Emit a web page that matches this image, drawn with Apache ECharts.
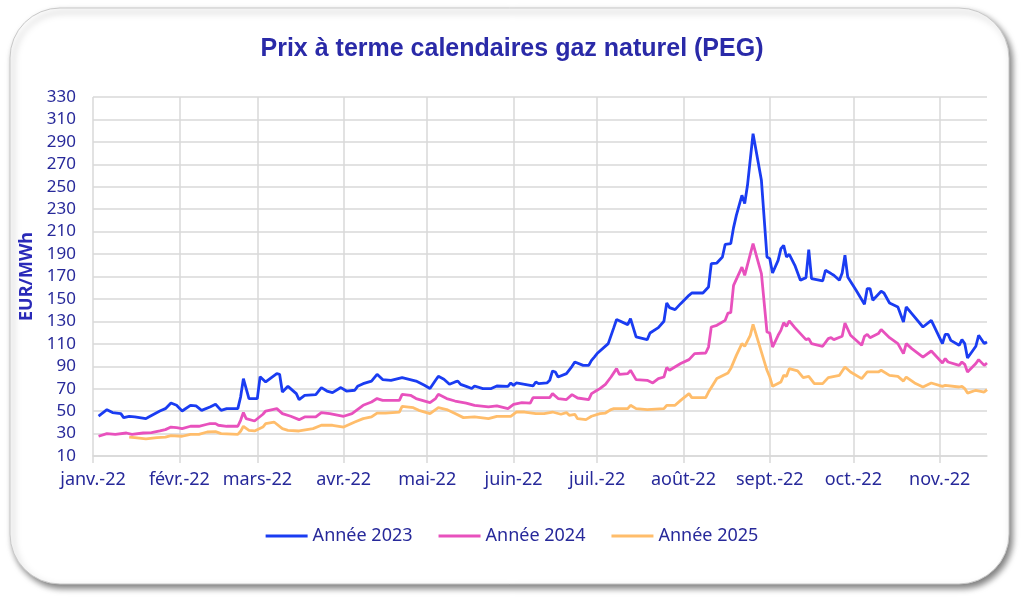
<!DOCTYPE html>
<html>
<head>
<meta charset="utf-8">
<title>Prix à terme calendaires gaz naturel (PEG)</title>
<script src="https://cdn.jsdelivr.net/npm/echarts@6/dist/echarts.min.js"></script>
<style>
  html, body { margin: 0; padding: 0; background: #fff; }
  #chart { width: 1024px; height: 598px; }
</style>
</head>
<body>
<div id="chart"></div>
<script>
// libellés des mois (axe x)
var moisLabels = ['janv.-22', 'févr.-22', 'mars-22', 'avr.-22', 'mai-22', 'juin-22',
                  'juil.-22', 'août-22', 'sept.-22', 'oct.-22', 'nov.-22', 'déc.-22'];
var yTicks = { min: 10, max: 330, step: 20 };
var nomsSeries = ['Année 2023', 'Année 2024', 'Année 2025'];

// cotations : [jour 'MM-JJ', EUR/MWh]
var annee2023 = [
  ['01-03',45.6],['01-06',51.3],['01-08',48.7],['01-11',47.8],['01-12',44.2],['01-14',45.4],
  ['01-16',44.8],['01-20',43.3],['01-21',44.8],['01-25',50.1],['01-27',52.2],['01-29',57.2],
  ['01-31',55.2],['02-02',50.1],['02-05',55.2],['02-07',54.6],['02-09',50.7],['02-12',53.7],
  ['02-14',56.1],['02-16',50.7],['02-18',52.2],['02-22',52.2],['02-23',62.6],['02-24',79],
  ['02-26',61.2],['03-01',61.2],['03-02',80.7],['03-04',76],['03-08',83.4],['03-09',82.8],
  ['03-10',67],['03-12',72.1],['03-15',65.6],['03-16',60.3],['03-18',64.1],['03-22',64.7],
  ['03-24',71],['03-26',67.9],['03-28',66.5],['03-31',71],['04-02',67.9],['04-05',68.6],
  ['04-06',72.1],['04-08',74.5],['04-11',76.8],['04-13',82.8],['04-15',78.1],['04-18',77.5],
  ['04-22',79.9],['04-27',76.8],['04-30',73],['05-02',70.1],['05-04',77.5],['05-05',81],
  ['05-07',78.4],['05-09',73.9],['05-11',76],['05-12',76.8],['05-13',73.9],['05-15',72.1],
  ['05-17',70.1],['05-18',72.4],['05-21',70.1],['05-24',70.1],['05-26',72.4],['05-30',72.1],
  ['05-31',75.1],['06-01',73],['06-02',75.1],['06-05',73.9],['06-08',72.4],['06-09',76],
  ['06-10',74.5],['06-13',75.1],['06-14',77.5],['06-15',85.8],['06-16',84.9],['06-17',80.4],
  ['06-20',83.4],['06-22',89.9],['06-23',93.8],['06-26',90.8],['06-28',90.8],['06-29',95.3],
  ['06-30',98.2],['07-01',101.3],['07-05',110.2],['07-07',124.4],['07-08',131.6],['07-12',127.1],
  ['07-13',132.5],['07-15',116.1],['07-19',113.7],['07-20',119.6],['07-23',124.4],['07-25',130.1],
  ['07-26',146.4],['07-27',142.3],['07-29',140.5],['07-31',145.8],['08-03',153.2],['08-04',155.3],
  ['08-08',155.3],['08-10',160.6],['08-11',181.5],['08-13',182],['08-15',187.4],['08-16',198.7],
  ['08-18',199.3],['08-19',213.6],['08-20',224.5],['08-22',242.4],['08-23',235],['08-24',251.3],
  ['08-26',297.3],['08-29',255.7],['08-31',187.4],['09-01',185.9],['09-02',173.1],['09-04',184.4],
  ['09-05',194.8],['09-06',197.7],['09-07',187.4],['09-08',189.8],['09-10',180],['09-12',166.6],
  ['09-14',169],['09-15',193.9],['09-16',168.1],['09-20',166],['09-21',175.5],['09-23',172.6],
  ['09-24',171.1],['09-26',166.6],['09-27',173.1],['09-28',188.9],['09-29',169.5],['10-02',157.7],
  ['10-05',145.2],['10-06',159.2],['10-07',159.2],['10-08',148.8],['10-11',156.8],['10-12',155.3],
  ['10-14',146.4],['10-17',142.8],['10-19',129.4],['10-20',142.8],['10-22',136.9],['10-26',125],
  ['10-29',130.9],['11-02',110.2],['11-03',118.5],['11-04',118.5],['11-05',113.1],['11-08',108.7],
  ['11-09',113.7],['11-10',110.2],['11-11',97.3],['11-14',107.8],['11-15',117.6],['11-17',110.2],
  ['11-18',111.6]
];

var annee2024 = [
  ['01-03',27.6],['01-06',30],['01-09',29.3],['01-13',30.5],['01-15',29.3],['01-19',30.5],
  ['01-22',30.9],['01-25',32.3],['01-27',33.5],['01-29',35.8],['01-31',35.3],['02-02',34.4],
  ['02-05',36.5],['02-08',36.5],['02-11',38.3],['02-12',38.9],['02-14',38.9],['02-15',37.4],
  ['02-18',36.5],['02-22',36.5],['02-23',41.8],['02-24',48.7],['02-25',43.3],['02-28',41.2],
  ['03-03',47.2],['03-04',50.1],['03-08',52.2],['03-10',47.8],['03-13',45.4],['03-16',42.4],
  ['03-18',44.8],['03-22',44.8],['03-24',48.7],['03-27',47.8],['04-01',45.4],['04-04',47.8],
  ['04-08',55.2],['04-11',58.1],['04-13',61.2],['04-15',59.6],['04-21',59.6],['04-22',65],
  ['04-25',64.1],['04-27',61.2],['05-02',57.6],['05-04',61.2],['05-05',65],['05-08',61.2],
  ['05-11',59],['05-15',57.2],['05-18',55.2],['05-23',53.7],['05-26',54.6],['05-30',52.2],
  ['06-01',56.1],['06-04',57.6],['06-07',57.2],['06-08',62],['06-11',62],['06-14',62],
  ['06-15',65.6],['06-17',61.2],['06-20',60.3],['06-22',64.7],['06-24',61.7],['06-28',60.3],
  ['06-29',65.6],['07-01',68.6],['07-02',70.1],['07-04',73.9],['07-06',80.4],['07-08',87.9],
  ['07-09',82.8],['07-12',83.4],['07-13',86.4],['07-15',78.1],['07-19',77.5],['07-21',75.1],
  ['07-23',79],['07-25',80.4],['07-26',88.8],['07-27',86.4],['07-31',92.4],['08-03',95.9],
  ['08-05',101.3],['08-09',101.8],['08-10',107.1],['08-11',125],['08-13',126.5],['08-16',130.9],
  ['08-17',137.4],['08-18',137.8],['08-19',162.1],['08-22',178.4],['08-23',171],['08-26',199.3],
  ['08-29',172.6],['08-31',120.5],['09-01',119.6],['09-02',107.1],['09-04',117.6],['09-05',122],
  ['09-06',128.9],['09-07',125.6],['09-08',130.4],['09-10',124.4],['09-14',113.7],['09-15',114.6],
  ['09-16',110.2],['09-20',107.8],['09-22',114.6],['09-23',115.5],['09-24',113.7],['09-27',116.7],
  ['09-28',128.5],['09-30',117.6],['10-04',108.7],['10-05',116.7],['10-06',118.5],['10-07',115.5],
  ['10-10',119.1],['10-11',122.7],['10-14',115.5],['10-17',110.2],['10-19',101.3],['10-20',110.2],
  ['10-22',105.7],['10-26',98.2],['10-29',103.6],['11-02',92.9],['11-03',96.8],['11-04',93.8],
  ['11-08',90.8],['11-09',93.8],['11-10',91.7],['11-11',84.9],['11-14',92.4],['11-15',95.9],
  ['11-17',90.8],['11-18',92.9]
];

var annee2025 = [
  ['01-14',26.9],['01-16',26.4],['01-20',25.2],['01-24',26.4],['01-27',26.9],['01-29',28.2],
  ['02-02',27.6],['02-05',29.3],['02-08',29.3],['02-11',31.4],['02-14',31.7],['02-16',30],
  ['02-22',29.3],['02-23',32],['02-24',36.5],['02-26',32.9],['02-28',32.3],['03-03',35.8],
  ['03-04',38.9],['03-07',40.3],['03-10',34.4],['03-12',32.9],['03-16',32.3],['03-21',34.4],
  ['03-24',37.4],['03-28',37.4],['04-01',35.8],['04-05',40.3],['04-08',43.3],['04-11',44.8],
  ['04-13',48.3],['04-16',48.3],['04-21',49.2],['04-22',54.3],['04-26',53.1],['04-28',50.7],
  ['05-02',47.8],['05-04',51.4],['05-05',53.1],['05-08',51.4],['05-11',47.8],['05-14',44.2],
  ['05-18',44.8],['05-23',43.3],['05-26',45.4],['05-31',45.4],['06-02',49.2],['06-05',49.2],
  ['06-09',47.8],['06-12',47.8],['06-15',49.2],['06-18',47.2],['06-20',48.7],['06-21',46.3],
  ['06-23',47.2],['06-24',43.3],['06-27',42.4],['06-29',45.4],['07-02',47.8],['07-04',48.3],
  ['07-06',51.4],['07-07',52.2],['07-12',52.2],['07-13',55.2],['07-15',52.2],['07-19',51.4],
  ['07-25',52.2],['07-26',55.2],['07-29',55.2],['07-31',59.6],['08-03',65.6],['08-04',62],
  ['08-09',62],['08-10',67],['08-12',75.1],['08-13',79],['08-17',84],['08-18',87.9],
  ['08-20',99.7],['08-22',110.2],['08-23',107.8],['08-25',117.6],['08-26',127.4],['08-31',86.4],
  ['09-01',80.4],['09-02',72.1],['09-05',76],['09-06',81.9],['09-07',81],['09-08',87.9],
  ['09-11',85.8],['09-13',79.9],['09-15',81],['09-17',74.5],['09-20',74.5],['09-22',79.9],
  ['09-26',81.9],['09-28',89.3],['09-30',84.9],['10-04',79],['10-06',84.9],['10-10',84.9],
  ['10-11',86.4],['10-14',81.9],['10-17',81],['10-19',76.8],['10-20',80.4],['10-23',75.1],
  ['10-26',71.5],['10-29',75.1],['11-02',72.1],['11-03',73],['11-08',71.5],['11-09',72.1],
  ['11-10',70.1],['11-11',66.1],['11-14',68.6],['11-17',67],['11-18',69.2]
];

// axe calendaire : un jour par catégorie, du 1er janvier au 18 novembre 2022
var jours = [];
for (var t = Date.UTC(2022, 0, 1); t <= Date.UTC(2022, 10, 18); t += 86400000) {
  var d = new Date(t);
  jours.push(('0' + (d.getUTCMonth() + 1)).slice(-2) + '-' + ('0' + d.getUTCDate()).slice(-2));
}

function versIndex(serie) {
  return serie.map(function (p) { return [jours.indexOf(p[0]), p[1]]; });
}

// un trait par début de mois
function debutMois(idx, val) {
  return val.slice(3) === '01';
}

var bleuTexte = '#27299a';
var grille = '#d9d9d9';

var chart = echarts.init(document.getElementById('chart'));
chart.setOption({
  animation: false,
  graphic: [{
    type: 'rect',
    z: -10,
    shape: { x: 10, y: 8, width: 999, height: 576, r: 50 },
    style: {
      fill: '#fff',
      stroke: '#c8c8c8',
      lineWidth: 1,
      shadowBlur: 6,
      shadowOffsetX: 3,
      shadowOffsetY: 4,
      shadowColor: 'rgba(0,0,0,0.5)'
    }
  }],
  title: {
    text: 'Prix à terme calendaires gaz naturel (PEG)',
    left: 'center',
    top: 32,
    textStyle: { fontFamily: 'Liberation Sans', fontWeight: 'bold', fontSize: 25, color: '#2a2aa8' }
  },
  legend: {
    data: nomsSeries,
    left: 'center',
    top: 522,
    icon: 'rect',
    itemWidth: 42,
    itemHeight: 3,
    itemGap: 26,
    textStyle: { fontFamily: 'Noto Sans', fontSize: 18, color: bleuTexte }
  },
  grid: { left: 93, right: 37, top: 97, bottom: 142, containLabel: false },
  xAxis: {
    type: 'category',
    data: jours,
    boundaryGap: false,
    axisLine: { lineStyle: { color: grille, width: 1.5 } },
    axisTick: { show: true, interval: debutMois, length: 7, lineStyle: { color: grille, width: 1.5 } },
    splitLine: { show: true, interval: debutMois, lineStyle: { color: grille, width: 1.5 } },
    axisLabel: {
      interval: debutMois,
      margin: 15,
      fontFamily: 'Noto Sans',
      fontSize: 18,
      color: bleuTexte,
      formatter: function (val) { return moisLabels[parseInt(val.slice(0, 2), 10) - 1]; }
    }
  },
  yAxis: {
    type: 'value',
    min: yTicks.min,
    max: yTicks.max,
    interval: yTicks.step,
    name: 'EUR/MWh',
    nameLocation: 'middle',
    nameGap: 51,
    nameTextStyle: { fontFamily: 'Noto Sans', fontWeight: 'bold', fontSize: 18, color: '#2a2ab8' },
    axisLine: { show: false },
    axisTick: { show: false },
    axisLabel: { margin: 17, fontFamily: 'Noto Sans', fontSize: 17, color: bleuTexte },
    splitLine: { lineStyle: { color: grille, width: 1.5 } }
  },
  series: [
    { name: nomsSeries[0], type: 'line', data: versIndex(annee2023), symbol: 'none',
      color: '#1a3cf2', lineStyle: { width: 2.8, color: '#1a3cf2' }, z: 5 },
    { name: nomsSeries[1], type: 'line', data: versIndex(annee2024), symbol: 'none',
      color: '#e851bd', lineStyle: { width: 2.8, color: '#e851bd' }, z: 4 },
    { name: nomsSeries[2], type: 'line', data: versIndex(annee2025), symbol: 'none',
      color: '#ffbd6b', lineStyle: { width: 2.8, color: '#ffbd6b' }, z: 3 }
  ]
});
</script>
</body>
</html>
